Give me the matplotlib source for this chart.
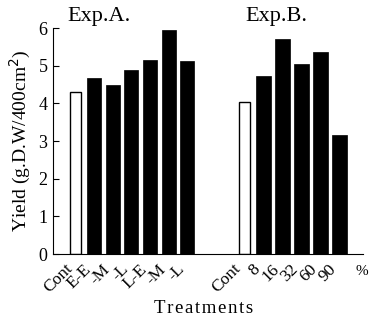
import numpy as np
import matplotlib.pyplot as plt
import matplotlib.transforms as mtransforms

plt.rcParams['font.family'] = ['Liberation Serif', 'DejaVu Serif']

# data
labelsA = ["Cont", "E-E", "-M", "-L", "L-E", "-M", "-L"]
yieldA = [4.3, 4.68, 4.5, 4.88, 5.15, 5.95, 5.12]
labelsB = ["Cont", "8", "16", "32", "60", "90"]
yieldB = [4.05, 4.73, 5.7, 5.06, 5.37, 3.15]

fig = plt.figure(figsize=(3.74, 3.2), dpi=100)
ax = fig.add_axes([0.142, 0.206, 0.829, 0.706])

xA = np.arange(len(labelsA))
xB = 9.06 + np.arange(len(labelsB)) * 1.02

for x, y, i in zip(xA, yieldA, range(len(xA))):
    if i == 0:
        ax.bar(x, y, width=0.6, color="white", edgecolor="black", linewidth=1)
    else:
        ax.bar(x, y, width=0.75, color="black", edgecolor="black", linewidth=0.5)
for x, y, i in zip(xB, yieldB, range(len(xB))):
    if i == 0:
        ax.bar(x, y, width=0.6, color="white", edgecolor="black", linewidth=1)
    else:
        ax.bar(x, y, width=0.8, color="black", edgecolor="black", linewidth=0.5)

ax.set_xlim(-1.21, 15.45)
ax.set_ylim(0, 6)
ax.set_yticks(range(0, 7))
ax.tick_params(axis="y", direction="in", length=4, labelsize=13, pad=4)
ax.set_xticks(list(xA) + list(xB))
ax.set_xticklabels(labelsA + labelsB, rotation=45, ha="right", va="top",
                   rotation_mode="anchor", fontsize=12.5)
ax.tick_params(axis="x", length=0, pad=5)
# shift the rotated labels a bit to the left
shift = mtransforms.ScaledTranslation(-8 / 72, 0, fig.dpi_scale_trans)
for lab in ax.get_xticklabels():
    lab.set_transform(lab.get_transform() + shift)
for s in ["top", "right"]:
    ax.spines[s].set_visible(False)

ax.set_ylabel("Yield (g.D.W/400cm$^2$)", fontsize=14, labelpad=4)
fig.text(0.545, 0.037, "\u200a".join("Treatments"), fontsize=13.5, ha="center", va="center")
ax.text(0.045, 1.05, "Exp.A.", transform=ax.transAxes, fontsize=16, va="center")
ax.text(0.62, 1.05, "Exp.B.", transform=ax.transAxes, fontsize=16, va="center")
ax.text(15.4, -0.3, "%", fontsize=11, ha="center", va="top")

fig.savefig("out.png", dpi=100)
